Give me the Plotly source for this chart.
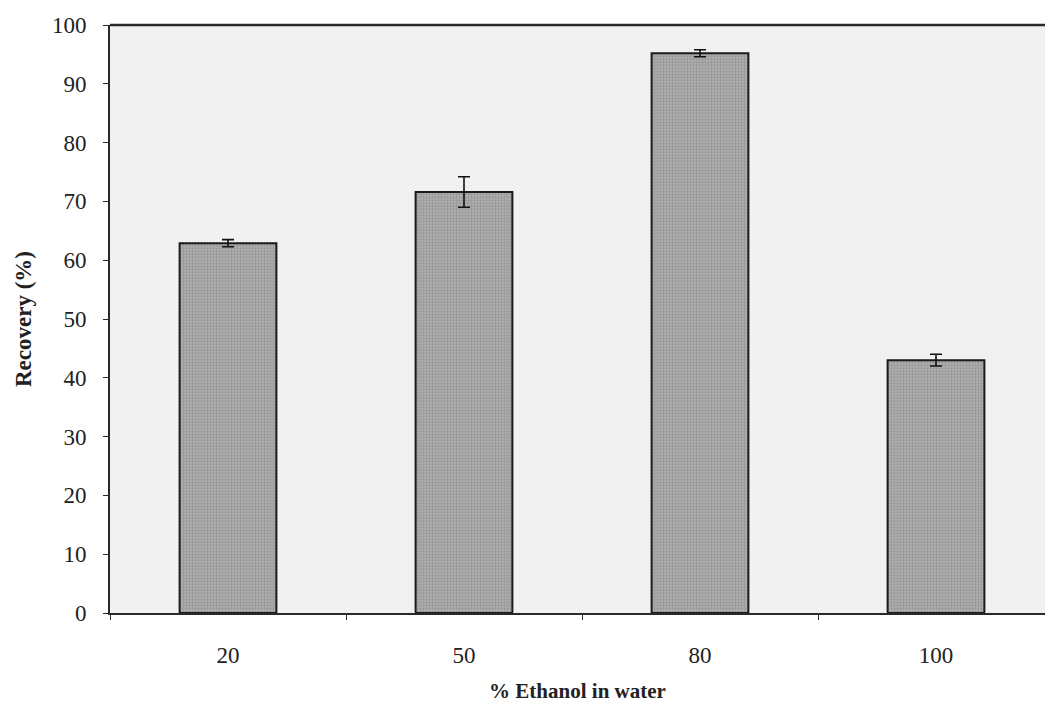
import plotly.graph_objects as go

categories = ["20", "50", "80", "100"]
recovery = [62.9, 71.6, 95.2, 43.0]
recovery_err = [0.6, 2.6, 0.6, 1.0]
y_ticks = [0, 10, 20, 30, 40, 50, 60, 70, 80, 90, 100]

fig = go.Figure()
fig.add_trace(go.Bar(
    x=categories,
    y=recovery,
    width=0.41,
    marker=dict(
        color="#a6a6a6",
        line=dict(color="#1a1a1a", width=2),
        pattern=dict(shape=".", fgcolor="#7a7a7a", bgcolor="#b0b0b0", size=3, solidity=0.45),
    ),
    error_y=dict(type="data", array=recovery_err, visible=True, color="#111111", thickness=1.6, width=6),
    showlegend=False,
))

font_family = "Liberation Serif, Times New Roman, serif"

fig.update_layout(
    width=1045,
    height=714,
    margin=dict(l=110, r=0, t=25, b=101, autoexpand=False),
    paper_bgcolor="white",
    plot_bgcolor="#f1f1f1",
    font=dict(family=font_family, color="#222222", size=23),
    xaxis=dict(
        type="category",
        range=[-0.5, -0.5 + 935 / 236],
        showline=True, linecolor="#2a2a2a", linewidth=2, mirror=False,
        showgrid=False, zeroline=False,
        ticks="outside", ticklen=5, tickcolor="#2a2a2a", tickson="boundaries",
        ticklabelstandoff=20,
        tickfont=dict(family=font_family, size=23, color="#222222"),
        title=dict(text="<b>% Ethanol in water</b>", standoff=17,
                   font=dict(family=font_family, size=21, color="#222222")),
        automargin=False,
    ),
    yaxis=dict(
        range=[0, 100],
        tickvals=y_ticks,
        showline=True, linecolor="#2a2a2a", linewidth=2, mirror=False,
        showgrid=False, zeroline=False,
        ticks="outside", ticklen=5, tickcolor="#2a2a2a",
        ticklabelstandoff=12,
        tickfont=dict(family=font_family, size=23, color="#222222"),
        title=dict(text="<b>Recovery (%)</b>", standoff=14,
                   font=dict(family=font_family, size=23, color="#222222")),
        automargin=False,
    ),
    shapes=[dict(type="line", xref="paper", yref="paper", x0=0, x1=1, y0=1, y1=1,
                 line=dict(color="#2a2a2a", width=2.5))],
)

fig.write_html("out.html")
